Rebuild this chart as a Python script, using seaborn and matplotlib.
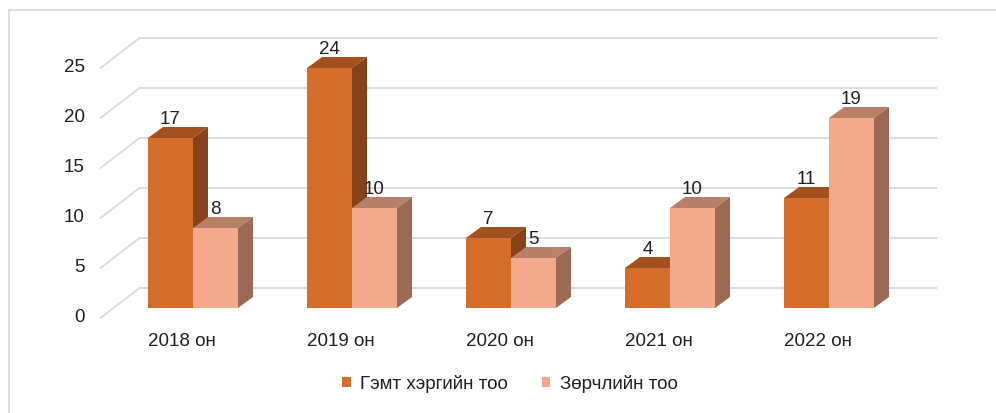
import matplotlib
matplotlib.use("Agg")
import matplotlib.pyplot as plt
from matplotlib.patches import Polygon, Rectangle, Patch
from matplotlib.lines import Line2D
import seaborn as sns
import pandas as pd

# ---- data ----
years = ["2018 он", "2019 он", "2020 он", "2021 он", "2022 он"]
crimes = [17, 24, 7, 4, 11]          # Гэмт хэргийн тоо
violations = [8, 10, 5, 10, 19]      # Зөрчлийн тоо
series_names = ["Гэмт хэргийн тоо", "Зөрчлийн тоо"]
y_ticks = [0, 5, 10, 15, 20, 25]

# ---- styling ----
front_cols = ["#D46C2A", "#F4A98A"]
top_cols = ["#A3521F", "#B98068"]
side_cols = ["#86431A", "#9B6955"]
grid_col = "#D9D9D9"
text_col = "#1f1f1f"
fs = 13.5

sns.set_theme(style="white")
plt.rcParams["font.family"] = ["Liberation Sans", "DejaVu Sans"]

W, H = 996, 413
fig = plt.figure(figsize=(W / 100, H / 100), dpi=100)

# front plane of the bars (in pixels): x 113.5..908.5, y(0)=308, y(25)=58
ax = fig.add_axes([113.5 / W, (H - 308) / H, 795 / W, 250 / H])

df = pd.DataFrame({
    "year": years * 2,
    "count": crimes + violations,
    "series": [series_names[0]] * len(years) + [series_names[1]] * len(years),
})

sns.barplot(data=df, x="year", y="count", hue="series", hue_order=series_names,
            palette=front_cols, width=0.566, saturation=1, legend=False,
            linewidth=0, ax=ax, zorder=3)

ax.set_xlim(-0.5, len(years) - 0.5)
ax.set_ylim(0, 25)
ax.set_axis_off()

# depth offsets in data units (1 x-unit = 159 px, 1 y-unit = 10 px)
px_x, px_y = 159.0, 10.0
front_dx, front_dy = -13 / px_x, -10 / px_y     # floor front edge relative to bar plane
back_dx, back_dy = 26 / px_x, 20 / px_y         # back wall relative to bar plane
bar_dx, bar_dy = 15 / px_x, 11 / px_y           # bar depth

x0, x1 = -0.5, len(years) - 0.5

# back wall gridlines and side-wall diagonals
for v in y_ticks:
    ax.add_line(Line2D([x0 + front_dx, x0 + back_dx, x1 + back_dx + 2 / px_x],
                       [v + front_dy, v + back_dy, v + back_dy],
                       color=grid_col, lw=1.3, zorder=1, clip_on=False))
    ax.text(x0 + front_dx - 16 / px_x, v + front_dy, str(v), ha="right", va="center",
            fontsize=fs, color=text_col, clip_on=False)

# 3D faces for every bar, drawn from the bar geometry
n = len(years)
for h, patch in enumerate(ax.patches[:2 * n]):
    s = h // n
    bx, bw, bh = patch.get_x(), patch.get_width(), patch.get_height()
    z = 3 + s * 2 + 0.01
    patch.set_zorder(3 + s * 2)
    top = Polygon([(bx, bh), (bx + bar_dx, bh + bar_dy), (bx + bw + bar_dx, bh + bar_dy), (bx + bw, bh)],
                  closed=True, facecolor=top_cols[s], edgecolor="none", zorder=z, clip_on=False)
    side = Polygon([(bx + bw, 0), (bx + bw, bh), (bx + bw + bar_dx, bh + bar_dy), (bx + bw + bar_dx, bar_dy)],
                   closed=True, facecolor=side_cols[s], edgecolor="none", zorder=z, clip_on=False)
    ax.add_patch(top)
    ax.add_patch(side)
    ax.text(bx + bw / 2, bh + 1.9, f"{int(bh)}", ha="center", va="center",
            fontsize=fs, color=text_col, zorder=10, clip_on=False)

# category labels along the floor front
for i, lab in enumerate(years):
    ax.text(i + front_dx + 1.5 / px_x, -3.4, lab, ha="center", va="center",
            fontsize=fs, color=text_col, clip_on=False)

# legend
handles = [Patch(facecolor=c, edgecolor="none") for c in front_cols]
fig.legend(handles, series_names, loc="center", bbox_to_anchor=(510 / W, 1 - 384 / H),
           ncol=2, frameon=False, fontsize=fs, handlelength=0.45, handleheight=0.45,
           handletextpad=0.5, columnspacing=1.8, labelcolor=text_col)

# chart area border
fig.patches.append(Rectangle((8.5 / W, -0.1), 1.2, 1 - 9.5 / H + 0.1, transform=fig.transFigure,
                             fill=False, edgecolor=grid_col, lw=1.2))

fig.savefig("out.png", dpi=100, facecolor="white")
